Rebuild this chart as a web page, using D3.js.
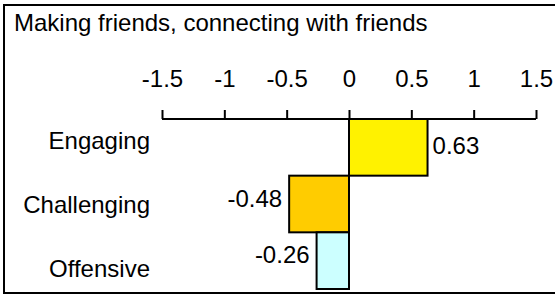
<!DOCTYPE html>
<html>
<head>
<meta charset="utf-8">
<script src="https://cdn.jsdelivr.net/npm/d3@7"></script>
<style>
  body { margin: 0; background: #fff; }
  svg text { font-family: "Liberation Sans", Arial, sans-serif; fill: #000; }
</style>
</head>
<body>
<div id="chart"></div>
<script>
const title = "Making friends, connecting with friends";
const categories = ["Engaging", "Challenging", "Offensive"];
const values = [0.63, -0.48, -0.26];
const colors = ["#fff200", "#ffcc00", "#ccffff"];
const tickValues = [-1.5, -1, -0.5, 0, 0.5, 1, 1.5];

const width = 555, height = 295;

let svg = d3.select("#chart")
    .append("svg")
    .attr("width", width)
    .attr("height", height);

// outer frame, right edge runs off the picture
svg.append("rect")
    .attr("x", 4).attr("y", 5)
    .attr("width", 570).attr("height", 288)
    .attr("fill", "none")
    .attr("stroke", "#000")
    .attr("stroke-width", 2);

svg.append("text")
    .attr("x", 14).attr("y", 31)
    .style("font-size", "24px")
    .text(title);

let x = d3.scaleLinear().domain([-1.5, 1.5]).range([162, 536]);
let y = d3.scaleBand().domain(categories).range([119, 289]).padding(0);
// category labels sit on their own spacing
let yLab = d3.scaleBand().domain(categories).range([108.5, 300.5]).padding(0);

// top axis
let axis = svg.append("g")
    .attr("transform", "translate(0,119)")
    .call(d3.axisTop(x).tickValues(tickValues).tickSize(9).tickPadding(23)
        .tickFormat(d => d3.format("")(d).replace("\u2212", "-")));
axis.select(".domain").attr("stroke-width", 2).attr("d", `M${x(-1.5)},0H${x(1.5)}`);
axis.selectAll(".tick line").attr("stroke-width", 2);
axis.selectAll(".tick text").style("font-size", "24px")
    .style("font-family", "'Liberation Sans', Arial, sans-serif");

let data = categories.map((c, i) => ({ cat: c, v: values[i], col: colors[i] }));

svg.selectAll("rect.bar")
    .data(data)
    .enter()
    .append("rect")
    .attr("class", "bar")
    .attr("x", d => x(Math.min(0, d.v)))
    .attr("y", d => y(d.cat))
    .attr("width", d => Math.abs(x(d.v) - x(0)))
    .attr("height", y.bandwidth())
    .attr("fill", d => d.col)
    .attr("stroke", "#000")
    .attr("stroke-width", 2);

svg.selectAll("text.val")
    .data(data)
    .enter()
    .append("text")
    .attr("class", "val")
    .attr("x", d => d.v >= 0 ? x(d.v) + 5 : x(d.v) - 7)
    .attr("y", d => y(d.cat) + y.bandwidth() / 2 + (d.v >= 0 ? 6.5 : 2.5))
    .attr("text-anchor", d => d.v >= 0 ? "start" : "end")
    .style("font-size", "24px")
    .text(d => d.v.toFixed(2));

svg.selectAll("text.cat")
    .data(categories)
    .enter()
    .append("text")
    .attr("class", "cat")
    .attr("x", 150)
    .attr("y", d => yLab(d) + yLab.bandwidth() / 2 + 8.6)
    .attr("text-anchor", "end")
    .style("font-size", "24px")
    .text(d => d);
</script>
</body>
</html>
